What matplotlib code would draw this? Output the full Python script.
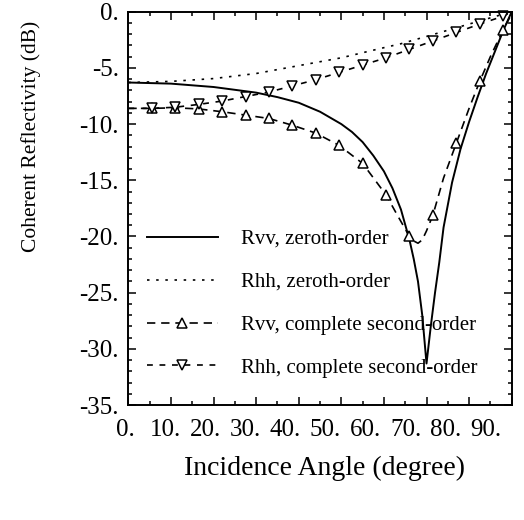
import matplotlib.pyplot as plt
import numpy as np
from matplotlib.ticker import MultipleLocator

plt.rcParams['font.family'] = ['Liberation Serif', 'DejaVu Serif']

# zeroth-order (Fresnel) curves
ang_v0 = [0, 10, 20, 30, 35, 40, 45, 50, 52.5, 55, 57.5, 60, 62, 64, 66,
          67, 68, 69, 70, 71, 72, 73, 74, 76, 78, 80, 82, 84, 86, 88, 90]
rvv0 = [-6.3, -6.4, -6.7, -7.2, -7.6, -8.1, -8.9, -10.0, -10.7, -11.6,
        -12.8, -14.2, -15.7, -17.6, -20.3, -22.0, -24.0, -27.0, -31.3,
        -28.0, -25.0, -22.3, -19.2, -15.2, -12.2, -9.8, -7.6, -5.5, -3.6,
        -1.7, 0.0]
ang_h0 = [0, 10, 20, 30, 40, 50, 60, 64, 70, 80, 85, 90]
rhh0 = [-6.3, -6.2, -5.95, -5.5, -4.8, -4.1, -3.2, -2.85, -2.2, -1.1,
        -0.55, 0.0]

# complete second-order curves
ang_v2 = [0, 5.5, 11, 16.5, 22, 27.5, 33, 38.5, 44, 49.5, 55, 60.5, 63,
          66, 67, 68, 69, 70, 71.5, 74, 77, 80, 82.5, 85, 88, 90]
rvv2 = [-8.6, -8.6, -8.55, -8.65, -8.9, -9.2, -9.5, -10.1, -10.8, -11.9,
        -13.5, -16.3, -18.0, -20.0, -20.4, -20.6, -20.3, -19.5, -18.1,
        -14.8, -11.7, -8.6, -6.2, -4.0, -1.6, -0.2]
ang_h2 = [0, 5.5, 11, 16.5, 22, 27.5, 33, 38.5, 44, 49.5, 55, 60.5, 66,
          71.5, 77, 82.5, 88, 90]
rhh2 = [-8.6, -8.6, -8.5, -8.25, -7.95, -7.55, -7.15, -6.6, -6.05, -5.4,
        -4.75, -4.1, -3.35, -2.6, -1.85, -1.1, -0.4, 0.0]
mark_angles = [5.5 * k for k in range(1, 17)]

xticks = list(range(0, 91, 10))
yticks = list(range(-35, 1, 5))

fig = plt.figure(figsize=(5.24, 5.2), dpi=100)
ax = fig.add_axes([0.245, 0.221, 0.7315, 0.7565])

mv = [i for i, a in enumerate(ang_v2) if a in mark_angles]
mh = [i for i, a in enumerate(ang_h2) if a in mark_angles]

ax.plot(ang_v0, rvv0, color='k', lw=1.4, label='Rvv, zeroth-order')
ax.plot(ang_h0, rhh0, color='k', ls=(0, (1.5, 4)), lw=1.2,
        label='Rhh, zeroth-order')
ax.plot(ang_v2, rvv2, color='k', ls=(0, (5, 3.5)), lw=1.2, marker='^',
        ms=7.5, mfc='white', mec='k', mew=1.1, markevery=mv,
        label='Rvv, complete second-order')
ax.plot(ang_h2, rhh2, color='k', ls=(0, (3.5, 4)), lw=1.2, marker='v',
        ms=7.5, mfc='white', mec='k', mew=1.1, markevery=mh, clip_on=False,
        label='Rhh, complete second-order')

ax.set_xlim(0, 90)
ax.set_ylim(-35, 0)
ax.set_xticks(xticks)
ax.set_xticklabels([])
ax.set_yticks(yticks)
ax.set_yticklabels([f'{v}.' for v in yticks])
ax.xaxis.set_minor_locator(MultipleLocator(5))
ax.yaxis.set_minor_locator(MultipleLocator(1))
ax.tick_params(which='both', direction='in', top=True, right=True, width=1.1)
ax.tick_params(which='major', length=6)
ax.tick_params(which='minor', length=3)
ax.tick_params(axis='y', pad=7, labelsize=18)
for s in ax.spines.values():
    s.set_linewidth(1.4)

# old plotting package spaced the x labels a little tighter than the ticks
for t in xticks:
    ax.text(t * 0.942 - 0.8, -0.064, f'{t}.', transform=ax.get_xaxis_transform(),
            ha='center', va='center', fontsize=18)

ax.legend(loc='center left', bbox_to_anchor=(0.048, 0.258), frameon=False,
          fontsize=15, handlelength=3.4, handletextpad=1.1, labelspacing=1.12,
          borderpad=0, borderaxespad=0, numpoints=1)

fig.text(31 / 524, 1 - 136 / 520, 'Coherent Reflectivity (dB)', rotation=90,
         ha='center', va='center', fontsize=15.5)
fig.text(324 / 524, 1 - 468 / 520, 'Incidence Angle (degree)',
         ha='center', va='center', fontsize=20)

fig.savefig('out.png', dpi=100)
